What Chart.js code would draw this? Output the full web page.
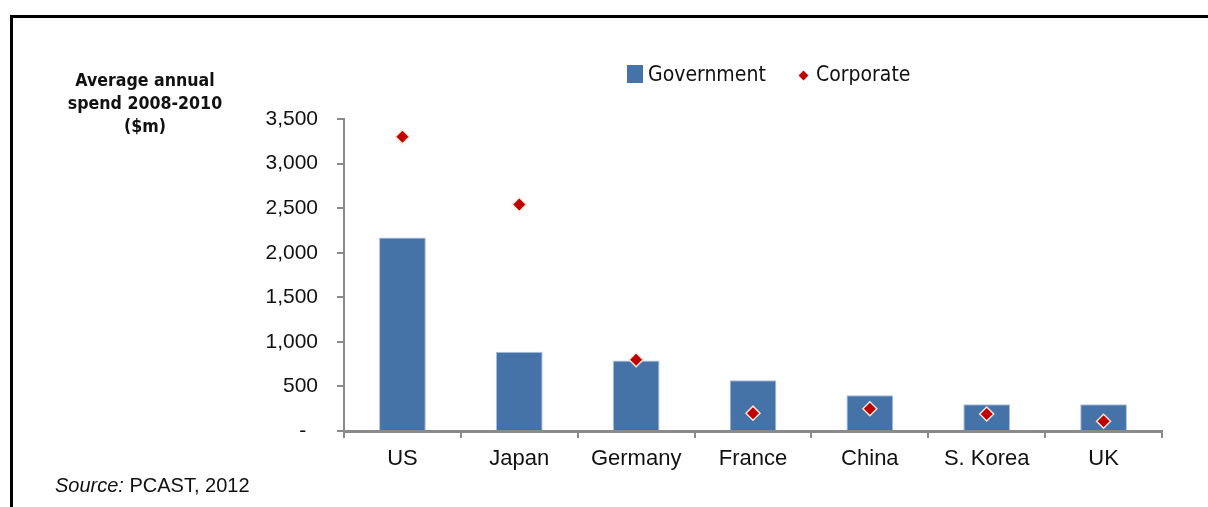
<!DOCTYPE html>
<html>
<head>
<meta charset="utf-8">
<script src="https://cdn.jsdelivr.net/npm/chart.js@4/dist/chart.umd.min.js"></script>
<style>
    html, body { margin: 0; padding: 0; background: #fff; }
    body { width: 1208px; height: 507px; position: relative; overflow: hidden; }
    .frame { position: absolute; left: 10px; top: 15px; width: 1300px; height: 600px; border-left: 3px solid #000; border-top: 3px solid #000; }
    canvas { position: absolute; left: 0; top: 0; }
    .y-title { position: absolute; left: 55px; top: 69px; width: 180px; text-align: center; font: bold 17.6px "DejaVu Sans Condensed", "DejaVu Sans", sans-serif; font-stretch: condensed; line-height: 23px; color: #111; }
    .legend { position: absolute; top: 62px; font: 21px "DejaVu Sans Condensed", "DejaVu Sans", sans-serif; font-stretch: condensed; color: #111; white-space: nowrap; }
    .legend i { display: inline-block; vertical-align: -2px; }
    .swatch { width: 16px; height: 18px; background: #4572A7; margin-right: 5px; }
    .diamond { width: 7px; height: 7px; background: #C00000; transform: rotate(45deg); margin: 0 9px 0 3px; vertical-align: 2px !important; }
    .source { position: absolute; left: 55px; top: 474px; font: 20px "Liberation Sans", Arial, sans-serif; color: #111; }
</style>
</head>
<body>
<div class="frame"></div>
<canvas id="rdChart" width="1208" height="507"></canvas>
<div class="y-title">Average annual<br>spend 2008-2010<br>($m)</div>
<div class="legend" style="left:627px"><i class="swatch"></i>Government</div>
<div class="legend" style="left:797px"><i class="diamond"></i>Corporate</div>
<div class="source"><i>Source:</i> PCAST, 2012</div>
<script>
const countries = ['US', 'Japan', 'Germany', 'France', 'China', 'S. Korea', 'UK'];
const government = [2170, 890, 790, 570, 400, 300, 300];
const corporate = [3300, 2540, 800, 200, 250, 190, 110];
const yTicks = [0, 500, 1000, 1500, 2000, 2500, 3000, 3500];

const axisGrey = '#8a8a8a';
const tickFont = { family: '"Liberation Sans", Arial, sans-serif', size: 21 };

new Chart(document.getElementById('rdChart'), {
    type: 'bar',
    data: {
        labels: countries,
        datasets: [{
            label: 'Corporate',
            type: 'line',
            data: corporate,
            showLine: false,
            order: 0,
            pointStyle: 'rectRot',
            pointRadius: 7,
            pointBackgroundColor: '#C00000',
            pointBorderColor: '#f2e6d6',
            pointBorderWidth: 1.5,
        }, {
            label: 'Government',
            data: government,
            order: 1,
            backgroundColor: '#4572A7',
            borderColor: '#a9bedb',
            borderWidth: 1,
            barPercentage: 0.4,
            categoryPercentage: 1,
        }],
    },
    options: {
        responsive: false,
        animation: false,
        layout: { padding: { left: 0, right: 46, top: 119, bottom: 0 } },
        plugins: { legend: { display: false }, tooltip: { enabled: false } },
        scales: {
            x: {
                afterFit: (scale) => { scale.height = 76; },
                grid: { offset: true, drawOnChartArea: false, drawTicks: true, tickLength: 7, color: axisGrey, lineWidth: 2 },
                border: { display: true, color: axisGrey, width: 3 },
                ticks: { color: '#111', font: { family: tickFont.family, size: 22 }, padding: 8, maxRotation: 0 },
            },
            y: {
                min: 0,
                max: 3500,
                afterFit: (scale) => { scale.width = 344; },
                afterBuildTicks: (scale) => { scale.ticks = yTicks.map((v) => ({ value: v })); },
                grid: { drawOnChartArea: false, drawTicks: true, tickLength: 7, color: axisGrey, lineWidth: 2 },
                border: { display: true, color: axisGrey, width: 2 },
                ticks: {
                    color: '#111',
                    font: tickFont,
                    padding: 19,
                    callback: (value) => value === 0 ? '-  ' : value.toLocaleString('en-US'),
                },
            },
        },
    },
});
</script>
</body>
</html>
